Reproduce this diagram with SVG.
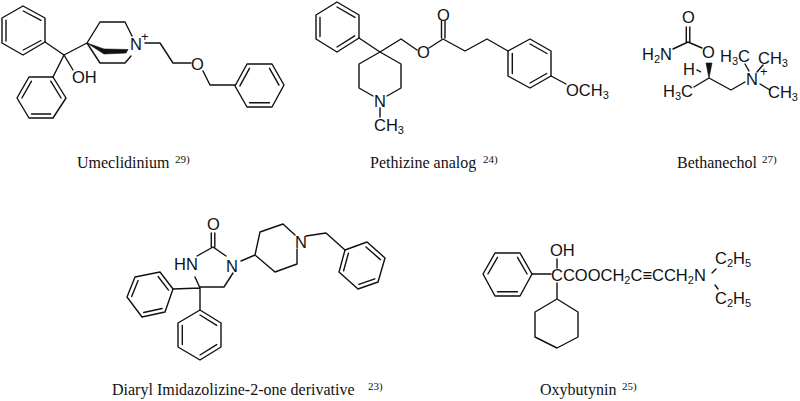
<svg xmlns="http://www.w3.org/2000/svg" width="800" height="401" viewBox="0 0 800 401">
<style>
.b{fill:none;stroke:#111;stroke-width:1.4;stroke-linejoin:round;stroke-linecap:round}
.a{font-family:"Liberation Sans",Arial,sans-serif;font-size:16.5px;fill:#111}
.s{font-size:11px}
.c{font-family:"Liberation Serif","Times New Roman",serif;font-size:16px;fill:#111}
.r{font-size:11px}
.w{fill:#111;stroke:#111;stroke-width:.6;stroke-linejoin:round}
</style>
<rect width="800" height="401" fill="#fff"/>
<g id="umeclidinium">
<path class="b" d="M23 6L45 18V42L23 55L2 43V18ZM23.3 11L41 20.3M6 20.3V41M41 40.5L23.3 50"/>
<path class="b" d="M53 77L66 98L53 118H29L17 98L29 77ZM50.7 81.2L61.1 98M31.5 81.2L21.9 98M31.5 114H50.7"/>
<path class="b" d="M235 86L247 64H272L284 85L272 107H247ZM249.5 68.3L239.9 85.9M269.5 68.3L279 85.1M249.5 102.7H269.5"/>
<path class="b" d="M45 42L64 55L87 43M64 55L53 77M64 55L73 70M87 43L100 22H125L132 36M87 43L100 63H125L131 56M145 43H160L173 63H191M203 71L210 85H235"/>
<path class="w" d="M87 43L104 49L128 49.5L126 53L104 54Z"/>
<text class="a" x="72" y="83">OH</text><text class="a" x="130" y="50">N</text><text class="a s" x="141" y="41" style="font-size:13px">+</text><text class="a" x="191" y="70">O</text>
<text class="c" x="77" y="168">Umeclidinium</text><text class="c r" x="175" y="163">29)</text>
</g>
<g id="pethizine-analog">
<path class="b" d="M337 2L359 15V38L337 52L316 39V15ZM337 7L355 17.4M320 17.4V36.6M354.7 35.8L337 47"/>
<path class="b" d="M508 51L530 39L551 51V76L530 88L508 76ZM530 44L547 53.5M512.3 53.5V73.5M546.7 73.5L530 83"/>
<path class="b" d="M359 38L380 52L401 39L417 50M429 48L443 39L465 51L487 39L508 51M441.5 38V21M445 38V21M551 76L566 84M380 52L401 64V88L387 96M373 96L359 88V64L380 52M380 108V117"/>
<text class="a" x="417" y="58">O</text><text class="a" x="437" y="21">O</text><text class="a" x="566" y="96">OCH<tspan class="s" dy="3">3</tspan></text><text class="a" x="374" y="107">N</text><text class="a" x="374" y="131">CH<tspan class="s" dy="3">3</tspan></text>
<text class="c" x="370" y="168">Pethizine analog</text><text class="c r" x="483" y="163">24)</text>
</g>
<g id="bethanechol">
<path class="b" d="M686.3 27V42M689.8 27V42M673 49L688 42L702 48M709 78L694 87M709 78L731 90L745 82M745 64L749 71M757 72L763 65M760 84L770 90"/>
<path class="w" d="M709 78L706 63H712Z"/>
<path class="b" d="M697 70L701 72" stroke-dasharray="1.5 1"/>
<text class="a" x="682" y="23">O</text><text class="a" x="642" y="60">H<tspan class="s" dy="3">2</tspan><tspan dy="-3">N</tspan></text><text class="a" x="702" y="58">O</text><text class="a" x="683" y="75">H</text><text class="a" x="663" y="97">H<tspan class="s" dy="3">3</tspan><tspan dy="-3">C</tspan></text><text class="a" x="720" y="62">H<tspan class="s" dy="3">3</tspan><tspan dy="-3">C</tspan></text><text class="a" x="758" y="64">CH<tspan class="s" dy="3">3</tspan></text><text class="a" x="746" y="85">N</text><text class="a" x="760" y="76" style="font-size:13px">+</text><text class="a" x="768" y="98">CH<tspan class="s" dy="3">3</tspan></text>
<text class="c" x="677" y="168">Bethanechol</text><text class="c r" x="762" y="163">27)</text>
</g>
<g id="diaryl-imidazolizine">
<path class="b" d="M345 250L367 242L385 258L378 282L358 289L339 272ZM366 247L380.4 259.6M348.4 253.2L343.6 270.8M358.8 284.4L374.8 278.8"/>
<path class="b" d="M173 289L160 272L135 277L127 297L142 317L165 312ZM168.5 290.1L158.1 276.5M138.1 280.5L131.7 296.5M143.7 312.5L162.1 308.5"/>
<path class="b" d="M200 310L221 323V347L200 360L178 347V323ZM200 315L216.7 325.4M182.3 325.4V344.6M216.7 344.6L200 355"/>
<path class="b" d="M211.3 233V247M214.8 233V247M197 256L213 247L226 256M241 261L255 255L260 232L283 224L295 235M297 249V264L275 272L255 255M306 236L326 233L345 250M195 277L200 288M233 273L224 287H200M200 288L173 289M200 288V310"/>
<text class="a" x="207" y="230">O</text><text class="a" x="174" y="270">HN</text><text class="a" x="226" y="272">N</text><text class="a" x="295" y="248">N</text>
<text class="c" x="112" y="395">Diaryl Imidazolizine-2-one derivative</text><text class="c r" x="368" y="390">23)</text>
</g>
<g id="oxybutynin">
<path class="b" d="M520 253L532 274L520 296H495L483 274L495 253ZM517.5 257.3L527.1 274M497.5 257.3L487.9 274M497.5 291.7H517.5"/>
<path class="b" d="M557 299L578 312V337L557 348L535 337V312ZM532 274H551M557 259V268M557 283V299M716 269L712 273M715 285L718 289"/>
<text class="a" x="550" y="256">OH</text><text class="a" x="551" y="281">CCOOCH<tspan class="s" dy="3">2</tspan><tspan dy="-3">C≡CCH</tspan><tspan class="s" dy="3">2</tspan><tspan dy="-3">N</tspan></text><text class="a" x="715" y="264">C<tspan class="s" dy="3">2</tspan><tspan dy="-3">H</tspan><tspan class="s" dy="3">5</tspan></text><text class="a" x="715" y="304">C<tspan class="s" dy="3">2</tspan><tspan dy="-3">H</tspan><tspan class="s" dy="3">5</tspan></text>
<text class="c" x="540" y="395">Oxybutynin</text><text class="c r" x="622" y="390">25)</text>
</g>
</svg>
